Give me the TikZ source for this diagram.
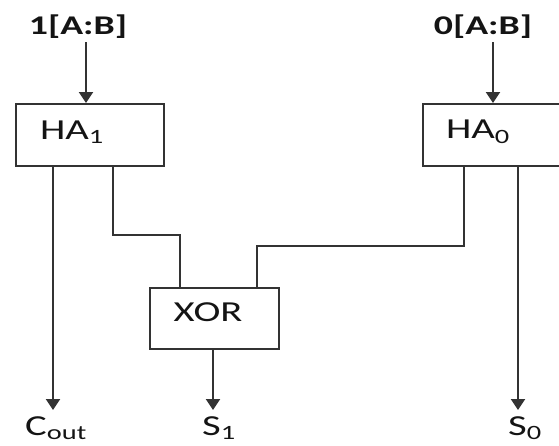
\documentclass[tikz,border=0pt]{standalone}
\usepackage{fontspec}
\setmainfont{Carlito}[FakeStretch=1.4]
\usetikzlibrary{arrows.meta}
\definecolor{wire}{HTML}{333333}
\definecolor{ink}{HTML}{141414}
\tikzset{
  blk/.style={draw=wire, line width=2pt, fill=white, minimum width=148pt, minimum height=62pt, inner sep=0pt},
  txt/.style={text=ink, font=\fontsize{29}{32}\selectfont, inner sep=0pt},
  intxt/.style={text=ink, font=\bfseries\fontsize{27}{30}\selectfont, inner sep=0pt},
  wirel/.style={draw=wire, line width=2pt},
  arr/.style={wirel, -{Triangle[width=14pt,length=11pt]}},
}
\begin{document}
\begin{tikzpicture}[x=1pt,y=-1pt]
\clip (0,0) rectangle (559,445);
\fill[white] (0,0) rectangle (559,445);
% inputs
\node[intxt] (in1) at (78,27) {1[A:B]};
\node[intxt] (in0) at (483,27) {0[A:B]};
% boxes
\node[blk, anchor=north west] (ha1) at (15,103) {};
\node[blk, anchor=north west] (ha0) at (422,103) {};
\node[blk, anchor=north west, minimum width=129pt, minimum height=61pt] (xor) at (149,287) {};
\node[txt] (ha1t) at (72,132) {HA\textsubscript{1}};
\node[txt] (ha0t) at (478,132) {HA\textsubscript{0}};
\node[txt] (xort) at (208,312) {XOR};
% input arrow ends
\coordinate (a1) at (86,42);
\coordinate (a0) at (493,42);
\draw[arr] (a1) -- (a1 |- ha1.north);
\draw[arr] (a0) -- (a0 |- ha0.north);
% output coordinates
\coordinate (coutend) at (53,410);
\coordinate (s1end) at (213,410);
\coordinate (s0end) at (518,410);
\coordinate (c1) at (113,235);
\coordinate (c2) at (180,235);
\coordinate (d1) at (464,246);
\coordinate (d2) at (257,246);
% wires
\draw[arr] (ha1.south -| coutend) -- (coutend);
\draw[wirel] (ha1.south -| c1) -- (c1) -- (c2) -- (c2 |- xor.north);
\draw[wirel] (ha0.south -| d1) -- (d1) -- (d2) -- (d2 |- xor.north);
\draw[arr] (xor.south -| s1end) -- (s1end);
\draw[arr] (ha0.south -| s0end) -- (s0end);
% output labels
\node[txt, anchor=base] (cout) at (56,435) {C\textsubscript{out}};
\node[txt, anchor=base] (s1) at (219,435) {S\textsubscript{1}};
\node[txt, anchor=base] (s0) at (525,435) {S\textsubscript{0}};
\end{tikzpicture}
\end{document}
